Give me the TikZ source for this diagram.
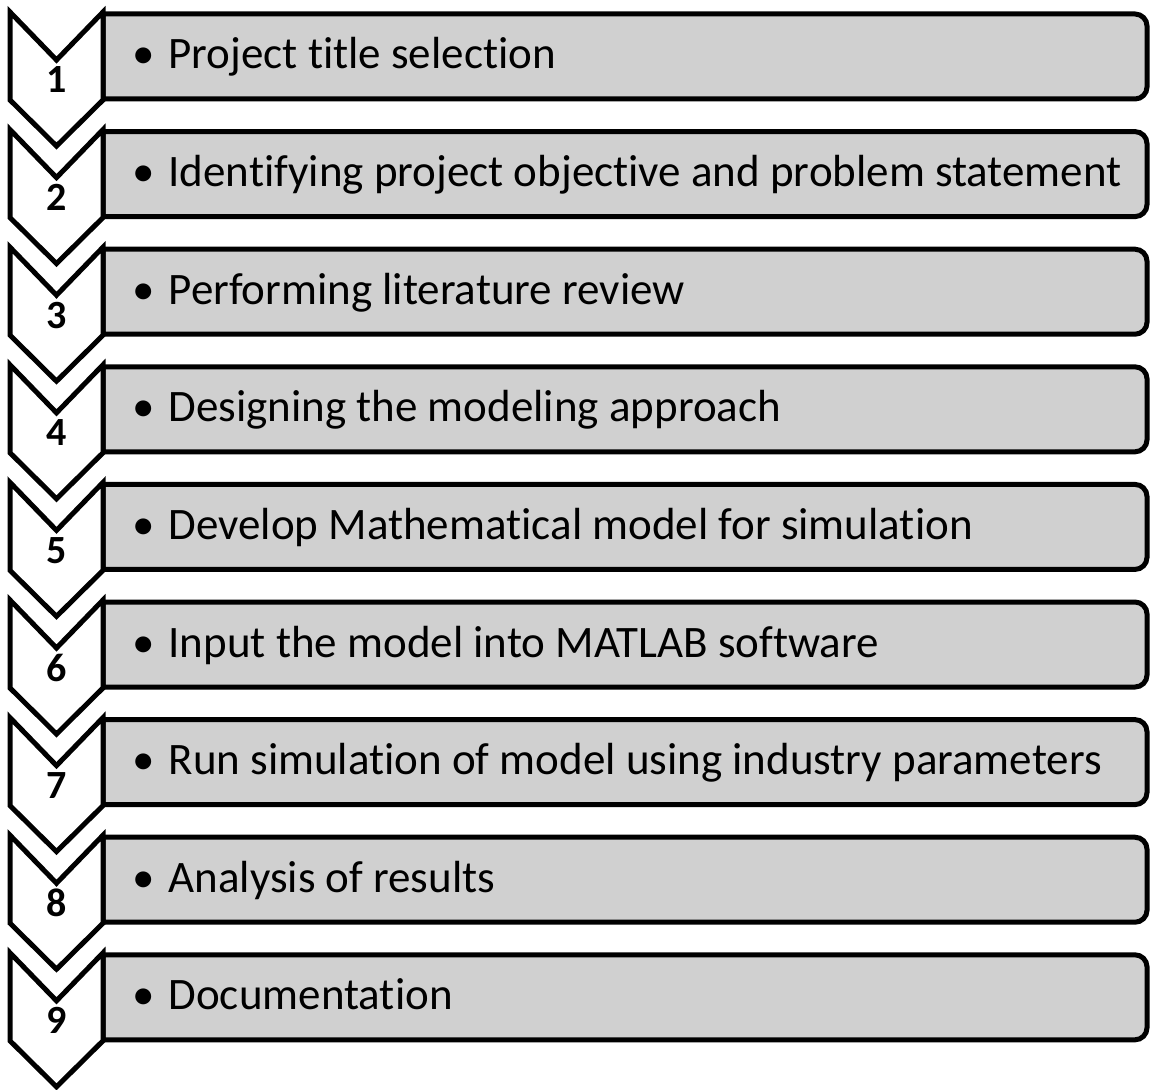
\documentclass[tikz,border=0pt]{standalone}
\usepackage{fontspec}
\setmainfont{Carlito}[Ligatures={NoCommon}]
\begin{document}
\begin{tikzpicture}[x=1pt,y=-1pt,
  stepbox/.style={draw=black,line width=5pt,fill=boxgray,line join=miter},
  chev/.style={draw=black,line width=5pt,fill=white,line join=miter},
  stepnum/.style={font=\fontsize{40}{40}\selectfont\bfseries,inner sep=0pt,anchor=base},
  steptext/.style={font=\fontsize{45}{45}\selectfont,inner sep=0pt,anchor=base west}]
\definecolor{boxgray}{RGB}{208,208,208}
\useasboundingbox (0,0) rectangle (1155,1089);
\foreach \i/\txt in {
  1/Project title selection,
  2/Identifying project objective and problem statement,
  3/Performing literature review,
  4/Designing the modeling approach,
  5/Develop Mathematical model for simulation,
  6/Input the model into MATLAB software,
  7/Run simulation of model using industry parameters,
  8/Analysis of results,
  9/Documentation}{
  \pgfmathsetmacro{\T}{12+117.6*(\i-1)}
  % rounded box to the right of the chevron
  \path[stepbox] (103,\T+2) -- (1135,\T+2)
     arc[start angle=-90,end angle=0,radius=12] -- (1147,\T+75)
     arc[start angle=0,end angle=90,radius=12] -- (103,\T+87) -- cycle;
  % chevron
  \path[chev] (10,\T) -- (56.5,\T+48) -- (103,\T) -- (103,\T+88)
     -- (56.5,\T+134) -- (10,\T+88) -- cycle;
  \node[stepnum] (n\i) at (56.5,\T+81) {\i};
  \node[steptext] (t\i) at (132,\T+57) {\textbullet\hspace{14pt}\txt};
}
\end{tikzpicture}
\end{document}
